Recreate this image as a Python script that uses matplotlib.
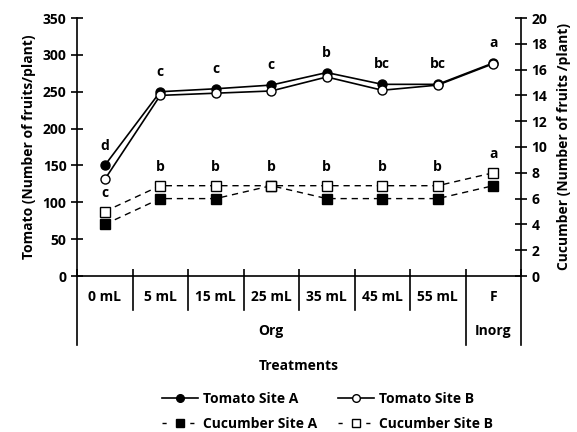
import matplotlib
matplotlib.use("Agg")
import matplotlib.pyplot as plt
import matplotlib.transforms as mtransforms
from matplotlib.lines import Line2D

plt.rcParams['font.family'] = ['Open Sans', 'DejaVu Sans']
plt.rcParams['font.weight'] = 'bold'
plt.rcParams['font.size'] = 10

# data
treatments = ["0 mL", "5 mL", "15 mL", "25 mL", "35 mL", "45 mL", "55 mL", "F"]
groups = ["Org", "Inorg"]
group_sizes = [7, 1]

tomato_a = [150, 250, 254, 259, 276, 260, 260, 289]
tomato_b = [131, 245, 248, 251, 270, 252, 259, 288]
cucumber_a = [4, 6, 6, 7, 6, 6, 6, 7]
cucumber_b = [5, 7, 7, 7, 7, 7, 7, 8]

tomato_letters = ["d", "c", "c", "c", "b", "bc", "bc", "a"]
cucumber_letters = ["c", "b", "b", "b", "b", "b", "b", "a"]

fig = plt.figure(figsize=(5.77, 4.32), dpi=100)
ax = fig.add_axes([77 / 577, 1 - 276 / 432, (521 - 77) / 577, 258 / 432])
ax2 = ax.twinx()

x = list(range(len(treatments)))
dash = (0, (4.5, 3.5))

# tomato, left axis
ax.plot(x, tomato_a, color='black', lw=1.2, marker='o', ms=6.5,
        mfc='black', mec='black', zorder=3)
ax.plot(x, tomato_b, color='black', lw=1.2, marker='o', ms=6.5,
        mfc='white', mec='black', zorder=3)

# cucumber, right axis
ax2.plot(x, cucumber_a, color='black', lw=1.0, ls=dash, marker='s',
         ms=6.5, mfc='black', mec='black')
ax2.plot(x, cucumber_b, color='black', lw=1.0, ls=dash, marker='s',
         ms=6.5, mfc='white', mec='black')

for i, lab in enumerate(tomato_letters):
    ax.text(i, tomato_a[i] + 27, lab, ha='center', va='center', fontweight='bold')
for i, lab in enumerate(cucumber_letters):
    top = max(cucumber_a[i], cucumber_b[i])
    ax2.text(i, top + 1.45, lab, ha='center', va='center', fontweight='bold')

ax.set_xlim(-0.5, len(treatments) - 0.5)
ax.set_ylim(0, 350)
ax2.set_ylim(0, 20)
ax.set_yticks(range(0, 351, 50))
ax2.set_yticks(range(0, 21, 2))

for a in (ax, ax2):
    a.spines['top'].set_visible(False)
    for s in a.spines.values():
        s.set_linewidth(1.2)
    a.tick_params(axis='y', direction='inout', length=9, width=1.2, labelsize=10, pad=3)

ax.spines['right'].set_visible(False)
ax2.spines['left'].set_visible(False)
ax2.spines['bottom'].set_visible(False)

# x axis: ticks at the category boundaries, labels drawn as text
bounds = [i - 0.5 for i in range(len(treatments) + 1)]
ax.set_xticks(bounds)
ax.set_xticklabels([])
ax.tick_params(axis='x', direction='in', length=5, width=1.2)

trans = mtransforms.blended_transform_factory(ax.transData, ax.transAxes)
y_short = (276 - 310) / 258
y_long = (276 - 345) / 258
for i, lab in enumerate(treatments):
    ax.text(i, (276 - 297) / 258, lab, transform=trans, ha='center', va='center',
            fontweight='bold')

group_edges = [-0.5]
for n in group_sizes:
    group_edges.append(group_edges[-1] + n)
for b in bounds:
    yb = y_long if b in group_edges else y_short
    ax.add_line(Line2D([b, b], [0, yb], transform=trans, color='black', lw=1.2, clip_on=False))
for g, lo, hi in zip(groups, group_edges[:-1], group_edges[1:]):
    ax.text((lo + hi) / 2, (276 - 331) / 258, g, transform=trans, ha='center', va='center',
            fontweight='bold')

fig.text(ax.get_position().x0 + ax.get_position().width / 2, 1 - 366 / 432, "Treatments",
         ha='center', va='center', fontweight='bold')

ax.set_ylabel("Tomato (Number of fruits/plant)", fontweight='bold', labelpad=5)
ax2.set_ylabel("Cucumber (Number of fruits /plant)", fontweight='bold',
               rotation=90, labelpad=7)

leg_dash = (0, (3, 7))
handles = [
    Line2D([], [], color='black', lw=1.2, marker='o', ms=5.5, mfc='black', mec='black'),
    Line2D([], [], color='black', lw=1.0, ls=leg_dash, marker='s', ms=5.5, mfc='black', mec='black'),
    Line2D([], [], color='black', lw=1.2, marker='o', ms=5.5, mfc='white', mec='black'),
    Line2D([], [], color='black', lw=1.0, ls=leg_dash, marker='s', ms=5.5, mfc='white', mec='black'),
]
labels = ["Tomato Site A", "Cucumber Site A", "Tomato Site B", "Cucumber Site B"]
fig.legend(handles, labels, loc='upper left', bbox_to_anchor=(162 / 577, 1 - 392 / 432),
           ncol=2, frameon=False, handlelength=2.6, handletextpad=0.35,
           columnspacing=1.5, labelspacing=0.8, borderpad=0, borderaxespad=0)

fig.savefig("out.png", dpi=100)
